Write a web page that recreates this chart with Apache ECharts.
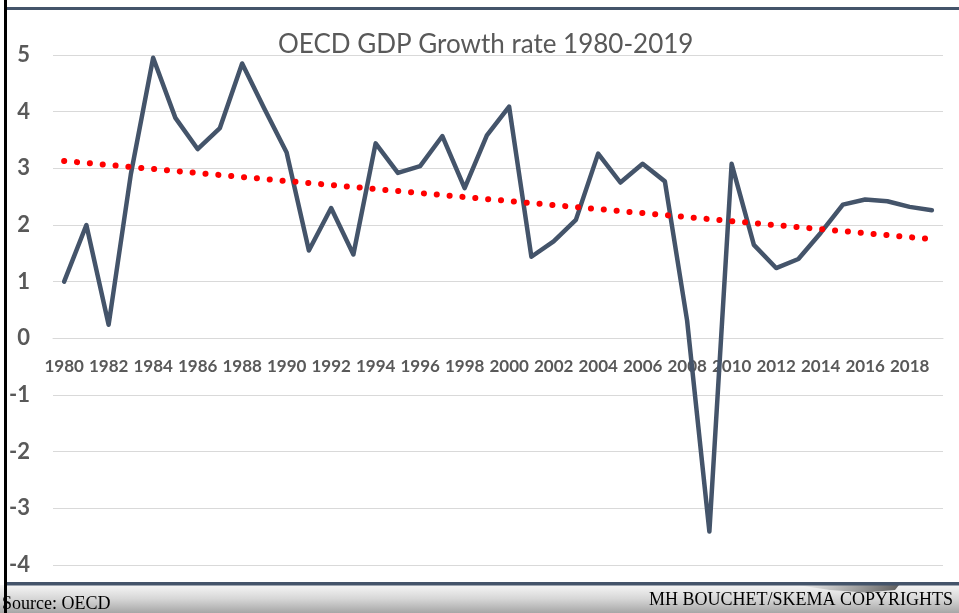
<!DOCTYPE html>
<html>
<head>
<meta charset="utf-8">
<script src="https://cdn.jsdelivr.net/npm/echarts@6/dist/echarts.min.js"></script>
<style>
html,body{margin:0;padding:0;background:#fff;}
#chart{width:959px;height:613px;}
</style>
</head>
<body>
<div id="chart"></div>
<script>
var years = ['1980','1981','1982','1983','1984','1985','1986','1987','1988','1989',
             '1990','1991','1992','1993','1994','1995','1996','1997','1998','1999',
             '2000','2001','2002','2003','2004','2005','2006','2007','2008','2009',
             '2010','2011','2012','2013','2014','2015','2016','2017','2018','2019'];
var growth = [1.0, 2.0, 0.24, 2.9, 4.95, 3.89, 3.34, 3.71, 4.85, 4.05,
              3.28, 1.55, 2.30, 1.48, 3.44, 2.92, 3.04, 3.57, 2.65, 3.58,
              4.09, 1.44, 1.71, 2.09, 3.26, 2.75, 3.08, 2.77, 0.31, -3.41,
              3.08, 1.65, 1.24, 1.40, 1.86, 2.36, 2.45, 2.42, 2.32, 2.26];
var trendStart = 3.13;
var trendEnd = 1.75;
var yTicks = {min: -4, max: 5, step: 1};
var titleText = 'OECD GDP Growth rate 1980-2019';
var sourceText = 'Source: OECD';
var copyText = 'MH BOUCHET/SKEMA COPYRIGHTS';

var gridTop = 55, gridBottom = 48, chartH = 613;
var plotH = chartH - gridTop - gridBottom;
// distance from bottom of plot to the zero line, derived from the axis range
var zeroOffset = plotH * (0 - yTicks.min) / (yTicks.max - yTicks.min);

var chart = echarts.init(document.getElementById('chart'), null, {renderer: 'canvas'});
var option = {
  animation: false,
  backgroundColor: '#ffffff',
  title: {
    text: titleText,
    left: 278,
    top: 32,
    padding: 0,
    textStyle: {fontFamily: 'Lato', fontSize: 26, fontWeight: 'normal', color: '#595959'}
  },
  grid: {left: 53, right: 16, top: gridTop, bottom: gridBottom, containLabel: false},
  xAxis: {
    type: 'category',
    data: years,
    boundaryGap: true,
    position: 'bottom',
    offset: -zeroOffset,
    axisTick: {show: false},
    axisLine: {show: true, onZero: false, lineStyle: {color: '#d9d9d9', width: 1}},
    axisLabel: {
      show: true,
      interval: 1,
      hideOverlap: false,
      margin: 20,
      color: '#595959',
      fontFamily: 'Lato',
      fontWeight: 'bold',
      fontSize: 17
    },
    splitLine: {show: false}
  },
  yAxis: {
    type: 'value',
    min: yTicks.min,
    max: yTicks.max,
    interval: yTicks.step,
    axisLine: {show: false},
    axisTick: {show: false},
    axisLabel: {
      margin: 23,
      color: '#595959',
      fontFamily: 'Lato',
      fontWeight: 'bold',
      fontSize: 22,
      padding: [3, 0, 0, 0]
    },
    splitLine: {lineStyle: {color: '#d9d9d9', width: 1}}
  },
  series: [
    {
      type: 'line',
      data: growth,
      symbol: 'none',
      lineStyle: {color: '#44546A', width: 4.5, join: 'round', cap: 'round'}
    },
    {
      type: 'line',
      data: [[years[0], trendStart], [years[years.length - 1], trendEnd]],
      symbol: 'none',
      lineStyle: {color: '#FF0000', width: 6, type: [0.1, 12.8], cap: 'round'}
    }
  ],
  graphic: [
    {type: 'rect', shape: {x: 0, y: 585, width: 959, height: 28}, z: 10,
      style: {fill: new echarts.graphic.LinearGradient(0, 0, 0, 1, [
        {offset: 0, color: '#f6f6f6'}, {offset: 0.5, color: '#d6d6d6'}, {offset: 1, color: '#a6a6a6'}])}},
    {type: 'polygon', z: 11,
      shape: {points: [[797, 585], [899, 585], [895, 590], [865, 592.5], [830, 590]]},
      style: {fill: new echarts.graphic.LinearGradient(0, 0, 1, 0, [
        {offset: 0, color: 'rgba(90,90,90,0)'}, {offset: 1, color: 'rgba(70,70,70,0.85)'}])}},
    {type: 'rect', shape: {x: 7, y: 7, width: 952, height: 3}, z: 12, style: {fill: '#44546A'}},
    {type: 'rect', shape: {x: 7, y: 582, width: 952, height: 3.5}, z: 12, style: {fill: '#44546A'}},
    {type: 'text', z: 13, style: {x: 2, y: 604.5, text: sourceText, fill: '#000000',
      font: '18px "Liberation Serif", "Times New Roman", serif', textAlign: 'left', textVerticalAlign: 'middle'}},
    {type: 'text', z: 13, style: {x: 953, y: 600.5, text: copyText, fill: '#000000',
      font: '18px "Liberation Serif", "Times New Roman", serif', textAlign: 'right', textVerticalAlign: 'middle'}},
    {type: 'rect', shape: {x: 4, y: 0, width: 3, height: 613}, z: 14, style: {fill: '#000000'}}
  ]
};
chart.setOption(option);
</script>
</body>
</html>
